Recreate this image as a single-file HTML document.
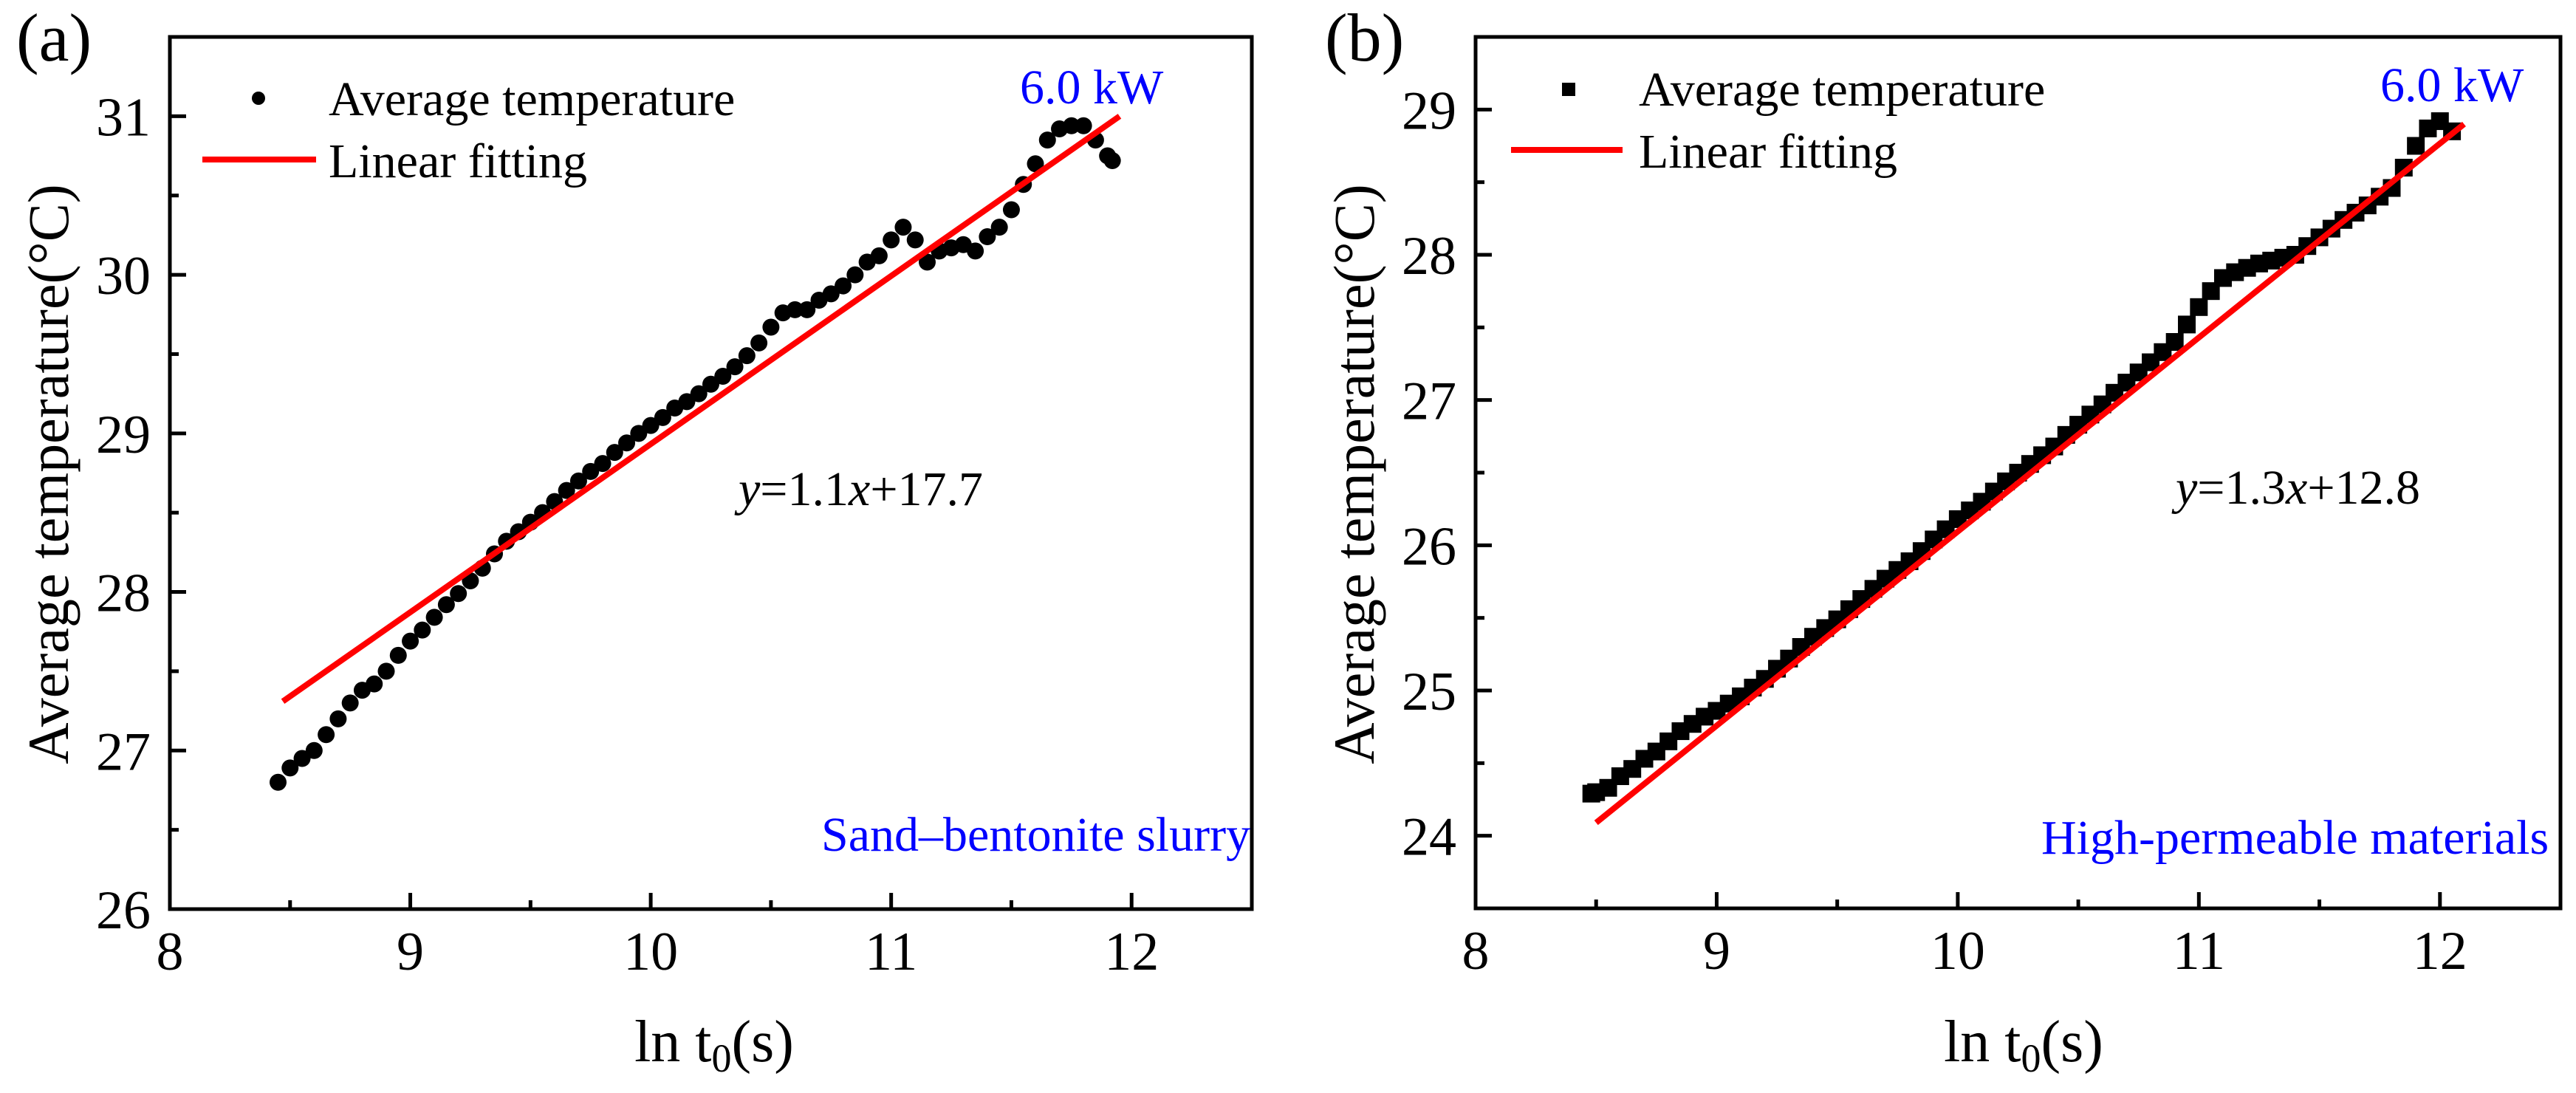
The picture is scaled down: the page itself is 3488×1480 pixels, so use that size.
<!DOCTYPE html>
<html><head><meta charset="utf-8"><style>
html,body{margin:0;padding:0;background:#fff;}
svg{display:block;font-family:"Liberation Serif",serif;}
</style></head><body>
<svg id="fig" width="3488" height="1480" viewBox="0 0 3488 1480" xmlns="http://www.w3.org/2000/svg"></svg>
<script>
// ---- data ----
const xTicks = [8, 9, 10, 11, 12];
const yTicksA = [26, 27, 28, 29, 30, 31];
const yTicksB = [24, 25, 26, 27, 28, 29];
const aX = [8.45,8.50,8.55,8.60,8.65,8.70,8.75,8.80,8.85,8.90,8.95,9.00,9.05,9.10,9.15,9.20,9.25,9.30,9.35,9.40,9.45,9.50,9.55,9.60,9.65,9.70,9.75,9.80,9.85,9.90,9.95,10.00,10.05,10.10,10.15,10.20,10.25,10.30,10.35,10.40,10.45,10.50,10.55,10.60,10.65,10.70,10.75,10.80,10.85,10.90,10.95,11.00,11.05,11.10,11.15,11.20,11.25,11.30,11.35,11.40,11.45,11.50,11.55,11.60,11.65,11.70,11.75,11.80,11.85,11.90,11.92];
const aY = [26.80,26.89,26.95,27.00,27.10,27.20,27.30,27.38,27.42,27.50,27.60,27.69,27.76,27.84,27.92,27.99,28.07,28.15,28.24,28.32,28.38,28.44,28.50,28.57,28.64,28.70,28.76,28.81,28.88,28.94,29.00,29.05,29.10,29.16,29.20,29.25,29.31,29.36,29.42,29.49,29.57,29.67,29.76,29.78,29.78,29.84,29.88,29.93,30.00,30.08,30.12,30.22,30.30,30.22,30.08,30.15,30.17,30.19,30.15,30.24,30.30,30.41,30.57,30.70,30.85,30.92,30.94,30.94,30.85,30.75,30.72];
const aFitX = [8.47, 11.95];
const aFitY = [27.31, 31.00];
const bX = [8.48,8.50,8.55,8.60,8.65,8.70,8.75,8.80,8.85,8.90,8.95,9.00,9.05,9.10,9.15,9.20,9.25,9.30,9.35,9.40,9.45,9.50,9.55,9.60,9.65,9.70,9.75,9.80,9.85,9.90,9.95,10.00,10.05,10.10,10.15,10.20,10.25,10.30,10.35,10.40,10.45,10.50,10.55,10.60,10.65,10.70,10.75,10.80,10.85,10.90,10.95,11.00,11.05,11.10,11.15,11.20,11.25,11.30,11.35,11.40,11.45,11.50,11.55,11.60,11.65,11.70,11.75,11.80,11.85,11.90,11.95,12.00,12.05];
const bY = [24.29,24.30,24.33,24.41,24.46,24.53,24.58,24.65,24.72,24.77,24.82,24.86,24.91,24.96,25.02,25.08,25.15,25.22,25.30,25.37,25.43,25.49,25.56,25.63,25.70,25.77,25.83,25.89,25.96,26.04,26.11,26.18,26.24,26.30,26.37,26.44,26.50,26.56,26.62,26.68,26.76,26.83,26.90,26.97,27.05,27.12,27.19,27.26,27.33,27.40,27.52,27.64,27.75,27.84,27.88,27.91,27.94,27.96,27.98,28.00,28.06,28.12,28.18,28.24,28.29,28.34,28.40,28.46,28.60,28.75,28.87,28.92,28.85];
const bFitX = [8.50, 12.10];
const bFitY = [24.09, 28.90];

const NS = "http://www.w3.org/2000/svg";
const svg = document.getElementById("fig");
function mk(tag, attrs, parent, text) {
  const e = document.createElementNS(NS, tag);
  for (const k in attrs) e.setAttribute(k, attrs[k]);
  if (text !== undefined) e.textContent = text;
  (parent || svg).appendChild(e);
  return e;
}

function panel(cfg) {
  const g = mk("g", {});
  
  
  const sx = v => cfg.L + (v - cfg.xmin) / (cfg.xmax - cfg.xmin) * (cfg.R - cfg.L);
  const sy = v => cfg.B - (v - cfg.ymin) / (cfg.ymax - cfg.ymin) * (cfg.B - cfg.T);
  for (let v = cfg.xmin; v <= cfg.xmax + 1e-9; v += 0.5) {
    const major = Math.abs(v - Math.round(v)) < 1e-9;
    const t = mk("line", {x1: sx(v), x2: sx(v), y1: cfg.B, y2: cfg.B - (major ? 22 : 12), stroke: "#000", "stroke-width": 5}, g);
    
    
  }
  for (let v = cfg.ymin; v <= cfg.ymax + 1e-9; v += 0.5) {
    const major = Math.abs(v - Math.round(v)) < 1e-9;
    const t = mk("line", {x1: cfg.L, x2: cfg.L + (major ? 22 : 12), y1: sy(v), y2: sy(v), stroke: "#000", "stroke-width": 5}, g);
    
    
  }
  xTicks.forEach(v => {
    const t = mk("text", {x: sx(v), y: cfg.B + 82, "font-size": 74, "text-anchor": "middle"}, g, String(v));
    
    
  });
  cfg.yTicks.forEach(v => {
    const t = mk("text", {x: cfg.L - 26, y: sy(v) + 26, "font-size": 74, "text-anchor": "end"}, g, String(v));
    
    
  });
  for (let i = 0; i < cfg.px.length; i++) {
    let m;
    if (cfg.square) {
      m = mk("rect", {x: sx(cfg.px[i]) - 12, y: sy(cfg.py[i]) - 12, width: 24, height: 24, fill: "#000"}, g);
    } else {
      m = mk("circle", {cx: sx(cfg.px[i]), cy: sy(cfg.py[i]), r: 11.5, fill: "#000"}, g);
    }
    
    
  }
  const fl = mk("line", {x1: sx(cfg.fx[0]), y1: sy(cfg.fy[0]), x2: sx(cfg.fx[1]), y2: sy(cfg.fy[1]), stroke: "#ff0000", "stroke-width": 8}, g);
  
  
  const fr = mk("rect", {x: cfg.L, y: cfg.T, width: cfg.R - cfg.L, height: cfg.B - cfg.T, fill: "none", stroke: "#000", "stroke-width": 5}, g);
  
  
}

panel({name: "panel-a", L: 230, R: 1695, T: 50, B: 1231, xmin: 8, xmax: 12.5, ymin: 26, ymax: 31.5,
  yTicks: yTicksA, px: aX, py: aY, fx: aFitX, fy: aFitY, square: false});
panel({name: "panel-b", L: 1998, R: 3467, T: 50, B: 1230, xmin: 8, xmax: 12.5, ymin: 23.5, ymax: 29.5,
  yTicks: yTicksB, px: bX, py: bY, fx: bFitX, fy: bFitY, square: true});
</script>
<svg width="3488" height="1480" style="position:absolute;left:0;top:0;font-family:'Liberation Serif',serif">
  <text x="22" y="82" font-size="92">(a)</text>
  <text x="1794" y="82" font-size="92">(b)</text>

  <circle cx="350" cy="133" r="9" fill="#000"/>
  <text x="445" y="156" font-size="66">Average temperature</text>
  <line x1="274" y1="216" x2="428" y2="216" stroke="#f00" stroke-width="8"/>
  <text x="445" y="240" font-size="66">Linear fitting</text>
  <text x="1381" y="140" font-size="66" fill="#0000ff">6.0 kW</text>
  <text x="1000" y="684" font-size="66"><tspan font-style="italic">y</tspan>=1.1<tspan font-style="italic">x</tspan>+17.7</text>
  <text x="1112" y="1152" font-size="66" fill="#0000ff">Sand–bentonite slurry</text>
  <text x="967" y="1437" font-size="80" text-anchor="middle">ln t<tspan font-size="54" dy="14">0</tspan><tspan dy="-14">(s)</tspan></text>
  <text transform="translate(92,642) rotate(-90)" font-size="78" text-anchor="middle">Average temperature(°C)</text>

  <rect x="2115" y="112" width="18" height="18" fill="#000"/>
  <text x="2219" y="143" font-size="66">Average temperature</text>
  <line x1="2046" y1="203" x2="2197" y2="203" stroke="#f00" stroke-width="8"/>
  <text x="2219" y="227" font-size="66">Linear fitting</text>
  <text x="3223" y="137" font-size="66" fill="#0000ff">6.0 kW</text>
  <text x="2946" y="682" font-size="66"><tspan font-style="italic">y</tspan>=1.3<tspan font-style="italic">x</tspan>+12.8</text>
  <text x="2764" y="1156" font-size="66" fill="#0000ff">High-permeable materials</text>
  <text x="2740" y="1437" font-size="80" text-anchor="middle">ln t<tspan font-size="54" dy="14">0</tspan><tspan dy="-14">(s)</tspan></text>
  <text transform="translate(1860,642) rotate(-90)" font-size="78" text-anchor="middle">Average temperature(°C)</text>
</svg>
</body></html>
